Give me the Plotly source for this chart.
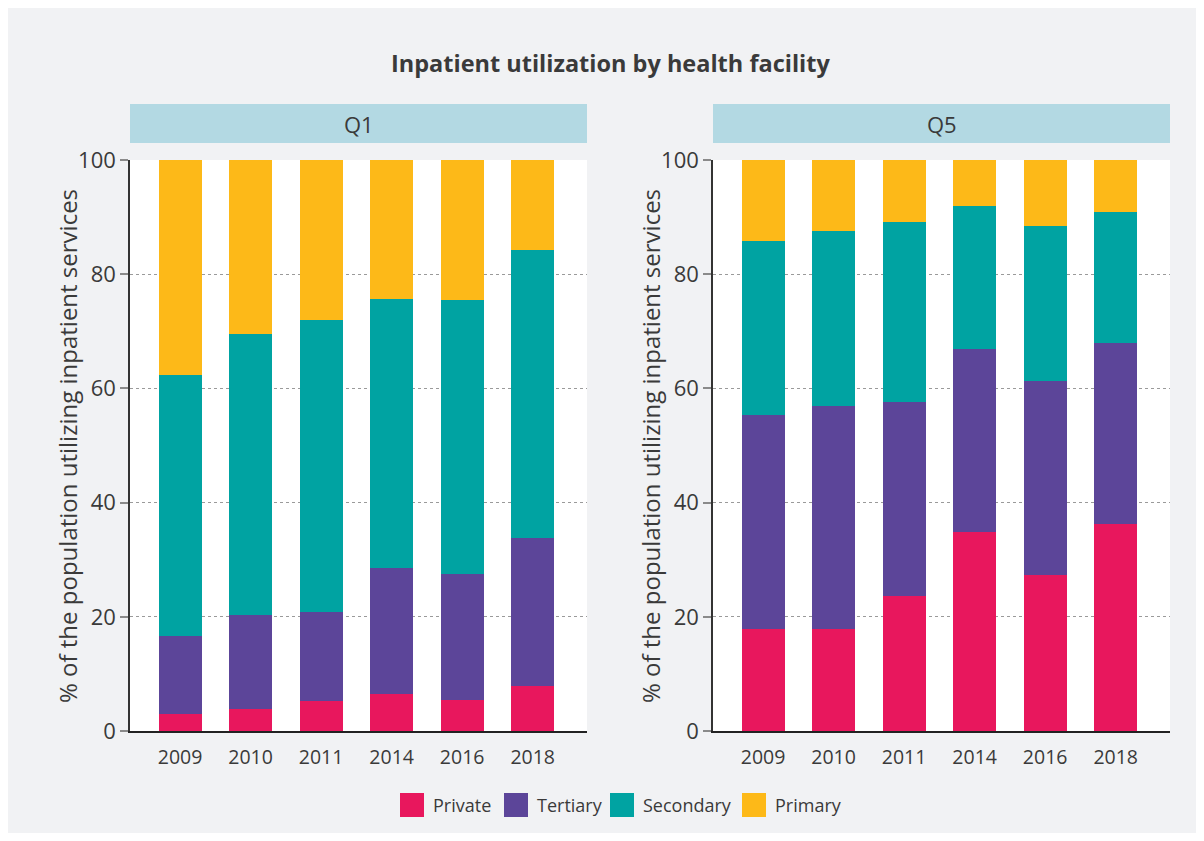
import plotly.graph_objects as go

years = ["2009", "2010", "2011", "2014", "2016", "2018"]
series_names = ["Private", "Tertiary", "Secondary", "Primary"]
colors = ["#e8175d", "#5c4599", "#00a3a2", "#fdb918"]

q1_private = [3.0, 3.8, 5.2, 6.5, 5.4, 7.8]
q1_tertiary = [13.6, 16.5, 15.6, 22.1, 22.1, 26.0]
q1_secondary = [45.7, 49.3, 51.2, 47.1, 47.9, 50.5]
q1_primary = [37.7, 30.4, 28.0, 24.3, 24.6, 15.7]

q5_private = [17.9, 17.8, 23.7, 34.8, 27.4, 36.2]
q5_tertiary = [37.5, 39.2, 33.9, 32.1, 33.9, 31.7]
q5_secondary = [30.4, 30.5, 31.6, 25.1, 27.1, 23.0]
q5_primary = [14.2, 12.5, 10.8, 8.0, 11.6, 9.1]

panels = ["Q1", "Q5"]
y_ticks = [0, 20, 40, 60, 80, 100]
title_text = "Inpatient utilization by health facility"
y_title = "% of the population utilizing inpatient services"

W, H = 1188, 825
OFF = 8  # page body margin
FONT = "Open Sans"
TXT = "#3a3a3a"
BG = "#f1f2f4"


def px(x):
    return (x - OFF) / W


def py(y):
    return 1 - (y - OFF) / H


fig = go.Figure()

panel_data = [
    [q1_private, q1_tertiary, q1_secondary, q1_primary],
    [q5_private, q5_tertiary, q5_secondary, q5_primary],
]
for p, data in enumerate(panel_data):
    xa = "x" if p == 0 else "x2"
    ya = "y" if p == 0 else "y2"
    for name, vals, col in zip(series_names, data, colors):
        fig.add_trace(go.Bar(
            x=years, y=vals, name=name, marker=dict(color=col, line=dict(width=0)),
            xaxis=xa, yaxis=ya, showlegend=False,
        ))

left_dom = [px(130), px(587)]
right_dom = [px(713), px(1170)]
y_dom = [py(731), py(160)]

axis_common_x = dict(
    type="category", range=[-0.71, 5.77], showline=True, linecolor="#222",
    linewidth=1.5, ticks="", showgrid=False, zeroline=False, automargin=False,
    ticklabelstandoff=8,
    tickfont=dict(family=FONT, size=19.5, color=TXT),
)
axis_common_y = dict(
    range=[0, 100], tickvals=y_ticks, showline=True, linecolor="#333",
    linewidth=1.5, ticks="outside", ticklen=8, tickcolor="#8a8a8a", tickwidth=1.5,
    showgrid=True, gridcolor="#9a9a9a", griddash="dot", gridwidth=1,
    zeroline=False, automargin=False, tickfont=dict(family=FONT, size=22, color=TXT),
)

fig.update_layout(
    width=W, height=H, autosize=False,
    margin=dict(l=0, r=0, t=0, b=0, pad=0),
    paper_bgcolor=BG, plot_bgcolor="white",
    barmode="stack", bargap=0.39,
    xaxis=dict(domain=left_dom, anchor="y", **axis_common_x),
    xaxis2=dict(domain=right_dom, anchor="y2", **axis_common_x),
    yaxis=dict(domain=y_dom, anchor="x", **axis_common_y),
    yaxis2=dict(domain=y_dom, anchor="x2", **axis_common_y),
    font=dict(family=FONT, color=TXT),
)

shapes = []
annotations = [
    dict(text="<b>" + title_text + "</b>", x=px(610), y=py(63), xref="paper", yref="paper",
         showarrow=False, xanchor="center", yanchor="middle",
         font=dict(family=FONT, size=23.5, color=TXT)),
]

for name, (x0, x1) in zip(panels, [(130, 587), (713, 1170)]):
    shapes.append(dict(type="rect", xref="paper", yref="paper", x0=px(x0), x1=px(x1),
                       y0=py(143), y1=py(104), fillcolor="#b3d9e3", line=dict(width=0)))
    annotations.append(dict(text=name, x=px((x0 + x1) / 2), y=py(123.5), xref="paper", yref="paper",
                            showarrow=False, xanchor="center", yanchor="middle",
                            font=dict(family=FONT, size=22, color=TXT)))

for xc in [67, 650]:
    annotations.append(dict(text=y_title, x=px(xc), y=py(446), xref="paper", yref="paper",
                            showarrow=False, textangle=-90, xanchor="center", yanchor="middle",
                            font=dict(family=FONT, size=24, color=TXT)))

swatch_x = [400, 504, 610, 742]
for name, col, sx in zip(series_names, colors, swatch_x):
    shapes.append(dict(type="rect", xref="paper", yref="paper", x0=px(sx), x1=px(sx + 24),
                       y0=py(817), y1=py(793), fillcolor=col, line=dict(width=0)))
    annotations.append(dict(text=name, x=px(sx + 31), y=py(805), xref="paper", yref="paper",
                            showarrow=False, xanchor="left", yanchor="middle",
                            font=dict(family=FONT, size=18, color=TXT)))

fig.update_layout(shapes=shapes, annotations=annotations)

fig.write_html("out.html")
